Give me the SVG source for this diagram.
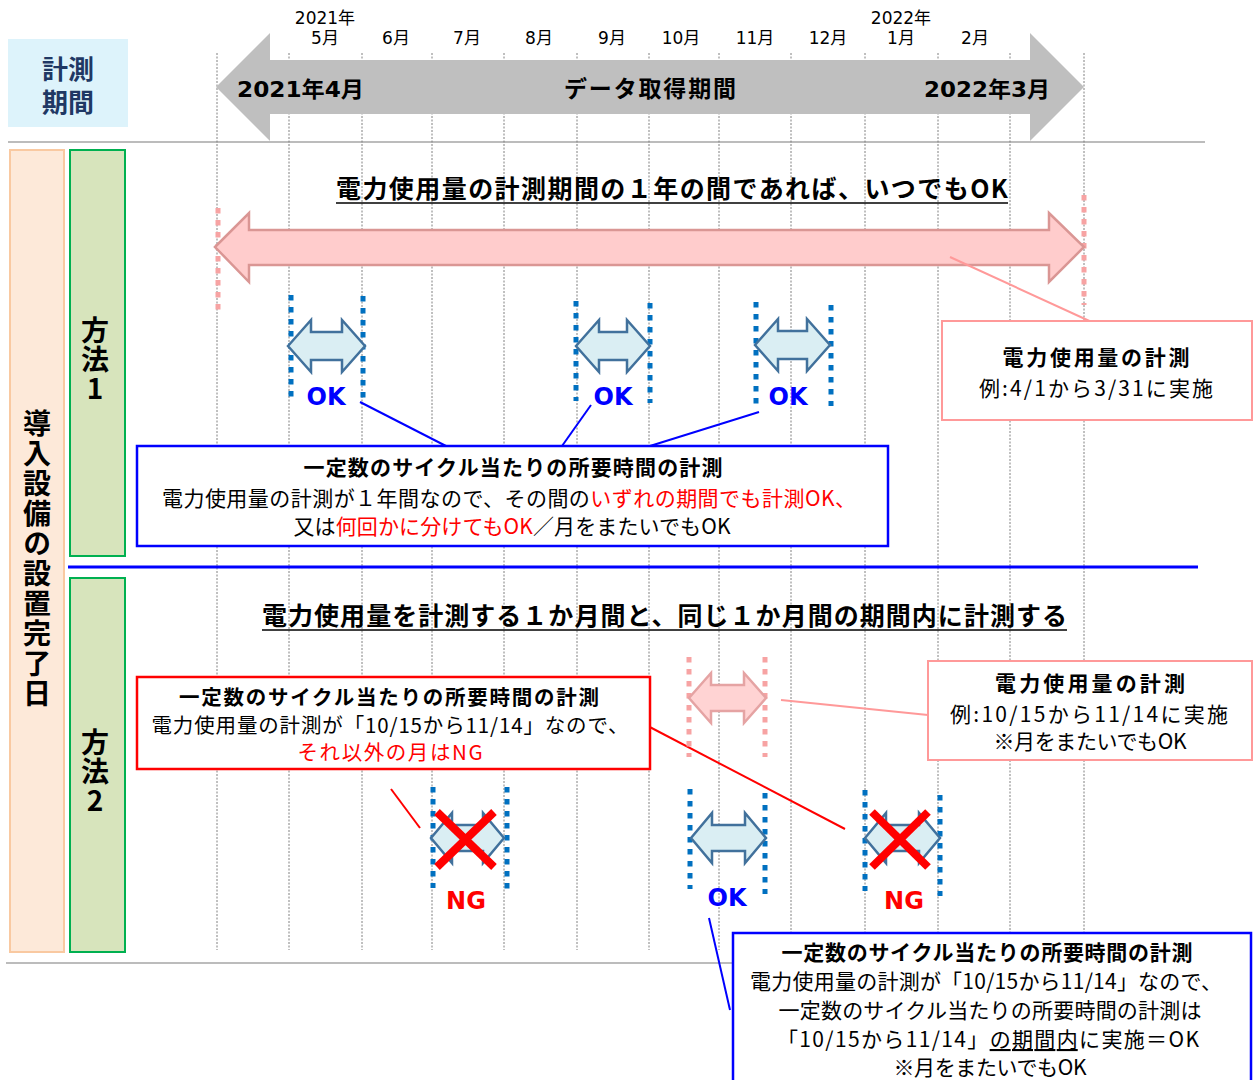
<svg xmlns="http://www.w3.org/2000/svg" width="1259" height="1080" viewBox="0 0 1259 1080">
<style>
.vl{stroke:#808080;stroke-width:1;stroke-dasharray:2 1.5;fill:none}
.dotb{stroke:#0070C0;stroke-width:5;stroke-dasharray:5.5 6.5;fill:none}
.dotp{stroke:#F7A3A3;stroke-width:5;stroke-dasharray:5.5 6.5;fill:none}
.barr{fill:#DAEEF3;stroke:#41719C;stroke-width:2.5}
.jp{font-family:"Noto Sans CJK JP",sans-serif;fill:#000}
.bd{font-weight:700}
.vt{writing-mode:vertical-rl;text-orientation:upright}
.lt{font-family:"DejaVu Sans","Noto Sans CJK JP",sans-serif;font-weight:700}
.mo{font-family:"DejaVu Sans","Noto Sans CJK JP",sans-serif;font-size:17px;fill:#000}
.red{fill:#FF0000}
.blue{fill:#0000FF}
.cx{stroke:#FF0000;stroke-width:8}
.cb{stroke:#0000FF;stroke-width:2;fill:none}
.cp{stroke:#FF9999;stroke-width:2;fill:none}
.cr{stroke:#FF0000;stroke-width:2;fill:none}
</style>
<rect width="1259" height="1080" fill="#FFFFFF"/>

<g id="grid">
<line x1="8" y1="142" x2="1205" y2="142" stroke="#A6A6A6" stroke-width="1.5"/>
<line x1="6" y1="963" x2="1205" y2="963" stroke="#A6A6A6" stroke-width="1.5"/>
<line class="vl" x1="217" y1="53" x2="217" y2="950"/>
<line class="vl" x1="289" y1="53" x2="289" y2="950"/>
<line class="vl" x1="362" y1="53" x2="362" y2="950"/>
<line class="vl" x1="432" y1="53" x2="432" y2="950"/>
<line class="vl" x1="504" y1="53" x2="504" y2="950"/>
<line class="vl" x1="577" y1="53" x2="577" y2="950"/>
<line class="vl" x1="649" y1="53" x2="649" y2="950"/>
<line class="vl" x1="719" y1="53" x2="719" y2="950"/>
<line class="vl" x1="791" y1="53" x2="791" y2="950"/>
<line class="vl" x1="865" y1="53" x2="865" y2="950"/>
<line class="vl" x1="938" y1="53" x2="938" y2="950"/>
<line class="vl" x1="1010" y1="53" x2="1010" y2="950"/>
<line class="vl" x1="1084" y1="53" x2="1084" y2="950"/>
</g>

<g id="months">
<text class="mo" x="325" y="24" text-anchor="middle">2021年</text>
<text class="mo" x="901" y="24" text-anchor="middle">2022年</text>
<text class="mo" x="325" y="44" text-anchor="middle">5月</text>
<text class="mo" x="396" y="44" text-anchor="middle">6月</text>
<text class="mo" x="467" y="44" text-anchor="middle">7月</text>
<text class="mo" x="539" y="44" text-anchor="middle">8月</text>
<text class="mo" x="612" y="44" text-anchor="middle">9月</text>
<text class="mo" x="681" y="44" text-anchor="middle">10月</text>
<text class="mo" x="755" y="44" text-anchor="middle">11月</text>
<text class="mo" x="828" y="44" text-anchor="middle">12月</text>
<text class="mo" x="901" y="44" text-anchor="middle">1月</text>
<text class="mo" x="975" y="44" text-anchor="middle">2月</text>
</g>

<g id="period-arrow">
<path d="M216,87 L270,33 L270,60 L1030,60 L1030,33 L1084,87 L1030,141 L1030,114 L270,114 L270,141 Z" fill="#BFBFBF"/>
<text class="lt" font-size="22" x="300.5" y="97" text-anchor="middle" textLength="127" lengthAdjust="spacingAndGlyphs">2021年4月</text>
<text class="jp bd" font-size="23" x="650" y="97" text-anchor="middle" textLength="172" lengthAdjust="spacing">データ取得期間</text>
<text class="lt" font-size="22" x="987" y="97" text-anchor="middle" textLength="126" lengthAdjust="spacingAndGlyphs">2022年3月</text>
</g>

<g id="label-period">
<rect x="8" y="39" width="120" height="88" fill="#DDF3FB"/>
<text class="jp bd" font-size="26" text-anchor="middle" style="fill:#1F3864"><tspan x="68" y="79">計測</tspan><tspan x="68" y="112">期間</tspan></text>
</g>

<g id="label-install">
<rect x="10" y="150" width="54" height="802" fill="#FDE9D9" stroke="#F9C9A1" stroke-width="2"/>
<text class="jp bd vt" font-size="28" x="37" y="409" letter-spacing="2">導入設備の設置完了日</text>
</g>

<g id="label-method1">
<rect x="70" y="150" width="55" height="406" fill="#D7E4BC" stroke="#00B050" stroke-width="2"/>
<text class="jp bd vt" font-size="28" x="95" y="316" letter-spacing="1">方法1</text>
</g>

<g id="label-method2">
<rect x="70" y="578" width="55" height="374" fill="#D7E4BC" stroke="#00B050" stroke-width="2"/>
<text class="jp bd vt" font-size="28" x="95" y="728" letter-spacing="1">方法2</text>
</g>

<line id="separator" x1="68" y1="567" x2="1198" y2="567" stroke="#0000FF" stroke-width="3"/>

<g id="title1">
<text class="jp bd" font-size="25" x="672" y="198" text-anchor="middle" textLength="672" lengthAdjust="spacing">電力使用量の計測期間の１年の間であれば、いつでもOK</text>
<line x1="336" y1="203" x2="1008" y2="203" stroke="#000" stroke-width="1.5"/>
</g>

<g id="title2">
<text class="jp bd" font-size="25" x="664.5" y="625" text-anchor="middle" textLength="805" lengthAdjust="spacing">電力使用量を計測する１か月間と、同じ１か月間の期間内に計測する</text>
<line x1="262" y1="630" x2="1067" y2="630" stroke="#000" stroke-width="1.5"/>
</g>

<g id="year-arrow">
<line class="dotp" x1="218" y1="208" x2="218" y2="310"/>
<line class="dotp" x1="1084" y1="195" x2="1084" y2="305"/>
<path d="M215,247 L249,213 L249,230 L1049,230 L1049,213 L1084,247 L1049,282 L1049,265 L249,265 L249,282 Z" fill="#FFCCCC" stroke="#DA9694" stroke-width="2.5"/>
</g>

<g id="m1-ok1">
<line class="dotb" x1="291" y1="295" x2="291" y2="398"/>
<line class="dotb" x1="363" y1="296" x2="363" y2="399"/>
<path class="barr" d="M288,346 L311,320 L311,332 L342,332 L342,320 L365,346 L342,372 L342,360 L311,360 L311,372 Z"/>
<text class="lt blue" font-size="24" x="326" y="405" text-anchor="middle">OK</text>
</g>
<g id="m1-ok2">
<line class="dotb" x1="576" y1="301" x2="576" y2="401"/>
<line class="dotb" x1="650" y1="303" x2="650" y2="403"/>
<path class="barr" d="M576,346 L599,320 L599,332 L627,332 L627,320 L650,346 L627,372 L627,360 L599,360 L599,372 Z"/>
<text class="lt blue" font-size="24" x="613" y="405" text-anchor="middle">OK</text>
</g>
<g id="m1-ok3">
<line class="dotb" x1="756" y1="302" x2="756" y2="405"/>
<line class="dotb" x1="831" y1="305" x2="831" y2="406"/>
<path class="barr" d="M755,345 L778,319 L778,331 L807,331 L807,319 L830,345 L807,371 L807,359 L778,359 L778,371 Z"/>
<text class="lt blue" font-size="24" x="788" y="405" text-anchor="middle">OK</text>
</g>

<g id="connectors">
<line class="cp" x1="950" y1="257" x2="1096" y2="324"/>
<line class="cb" x1="360" y1="402" x2="446" y2="446"/>
<line class="cb" x1="591" y1="405" x2="562" y2="446"/>
<line class="cb" x1="759" y1="412" x2="650" y2="446"/>
<line class="cp" x1="781" y1="700" x2="928" y2="715"/>
<line class="cr" x1="644" y1="724" x2="845" y2="829"/>
<line class="cr" x1="391" y1="789" x2="420" y2="828"/>
<line class="cb" x1="709" y1="918" x2="730" y2="1010"/>
</g>

<g id="m1-power-box">
<rect x="942" y="321" width="310" height="99" fill="#FFFFFF" stroke="#FF9999" stroke-width="2"/>
<text class="jp bd" font-size="21" x="1096" y="365" text-anchor="middle" textLength="187" lengthAdjust="spacing">電力使用量の計測</text>
<text class="jp" font-size="21" x="1096" y="396" text-anchor="middle" textLength="234" lengthAdjust="spacing">例:4/1から3/31に実施</text>
</g>

<g id="m1-cycle-box">
<rect x="137" y="446" width="751" height="100" fill="#FFFFFF" stroke="#0000FF" stroke-width="2.5"/>
<text class="jp bd" font-size="21" x="513" y="475" text-anchor="middle" textLength="419" lengthAdjust="spacing">一定数のサイクル当たりの所要時間の計測</text>
<text class="jp" font-size="21" x="509" y="506" text-anchor="middle" textLength="694" lengthAdjust="spacing">電力使用量の計測が１年間なので、その間の<tspan class="red">いずれの期間でも計測OK、</tspan></text>
<text class="jp" font-size="21" x="512" y="534" text-anchor="middle" textLength="437" lengthAdjust="spacing">又は<tspan class="red">何回かに分けてもOK</tspan>／月をまたいでもOK</text>
</g>

<g id="m2-month-arrow">
<line class="dotp" x1="689" y1="657" x2="689" y2="757"/>
<line class="dotp" x1="765" y1="657" x2="765" y2="757"/>
<path d="M689,698 L711,673 L711,685 L744,685 L744,673 L766,698 L744,723 L744,711 L711,711 L711,723 Z" fill="#FFD3D3" stroke="#E5A3A3" stroke-width="2.5"/>
</g>

<g id="m2-power-box">
<rect x="928" y="661" width="324" height="99" fill="#FFFFFF" stroke="#FF9999" stroke-width="2"/>
<text class="jp bd" font-size="21" x="1090" y="691" text-anchor="middle" textLength="190" lengthAdjust="spacing">電力使用量の計測</text>
<text class="jp" font-size="21" x="1089" y="722" text-anchor="middle" textLength="278" lengthAdjust="spacing">例:10/15から11/14に実施</text>
<text class="jp" font-size="21" x="1090" y="749" text-anchor="middle" textLength="193" lengthAdjust="spacing">※月をまたいでもOK</text>
</g>

<g id="m2-ng-box">
<rect x="137" y="677" width="513" height="92" fill="#FFFFFF" stroke="#FF0000" stroke-width="2.5"/>
<text class="jp bd" font-size="20.5" x="389" y="705" text-anchor="middle" textLength="420" lengthAdjust="spacing">一定数のサイクル当たりの所要時間の計測</text>
<text class="jp" font-size="20.5" x="390" y="733" text-anchor="middle" textLength="477" lengthAdjust="spacing">電力使用量の計測が「10/15から11/14」なので、</text>
<text class="jp red" font-size="20.5" x="390" y="760" text-anchor="middle" textLength="185" lengthAdjust="spacing">それ以外の月はNG</text>
</g>

<g id="m2-ng1">
<line class="dotb" x1="433" y1="787" x2="433" y2="888"/>
<line class="dotb" x1="507" y1="787" x2="507" y2="890"/>
<path class="barr" d="M431,838 L452,813 L452,825 L483,825 L483,813 L504,838 L483,863 L483,851 L452,851 L452,863 Z"/>
<line class="cx" x1="437" y1="812" x2="494" y2="867"/>
<line class="cx" x1="494" y1="812" x2="437" y2="867"/>
<text class="lt red" font-size="24" x="466" y="909" text-anchor="middle">NG</text>
</g>

<g id="m2-ok">
<line class="dotb" x1="690" y1="789" x2="690" y2="889"/>
<line class="dotb" x1="765" y1="793" x2="765" y2="894"/>
<path class="barr" d="M691,838 L712,813 L712,825 L745,825 L745,813 L766,838 L745,863 L745,851 L712,851 L712,863 Z"/>
<text class="lt blue" font-size="24" x="727" y="906" text-anchor="middle">OK</text>
</g>

<g id="m2-ng2">
<line class="dotb" x1="865" y1="790" x2="865" y2="891"/>
<line class="dotb" x1="940" y1="795" x2="940" y2="896"/>
<path class="barr" d="M865,838 L886,813 L886,825 L919,825 L919,813 L940,838 L919,863 L919,851 L886,851 L886,863 Z"/>
<line class="cx" x1="872" y1="812" x2="928" y2="867"/>
<line class="cx" x1="928" y1="812" x2="872" y2="867"/>
<text class="lt red" font-size="24" x="904" y="909" text-anchor="middle">NG</text>
</g>

<g id="m2-ok-box">
<rect x="733" y="933" width="518" height="160" fill="#FFFFFF" stroke="#0000FF" stroke-width="2.5"/>
<text class="jp bd" font-size="21" x="987" y="960" text-anchor="middle" textLength="411" lengthAdjust="spacing">一定数のサイクル当たりの所要時間の計測</text>
<text class="jp" font-size="21" x="986" y="989" text-anchor="middle" textLength="472" lengthAdjust="spacing">電力使用量の計測が「10/15から11/14」なので、</text>
<text class="jp" font-size="21" x="990" y="1018" text-anchor="middle" textLength="423" lengthAdjust="spacing">一定数のサイクル当たりの所要時間の計測は</text>
<text class="jp" font-size="21" x="988" y="1047" text-anchor="middle" textLength="422" lengthAdjust="spacing">「10/15から11/14」<tspan text-decoration="underline">の期間内</tspan>に実施＝OK</text>
<text class="jp" font-size="21" x="990" y="1075" text-anchor="middle" textLength="193" lengthAdjust="spacing">※月をまたいでもOK</text>
</g>
</svg>
